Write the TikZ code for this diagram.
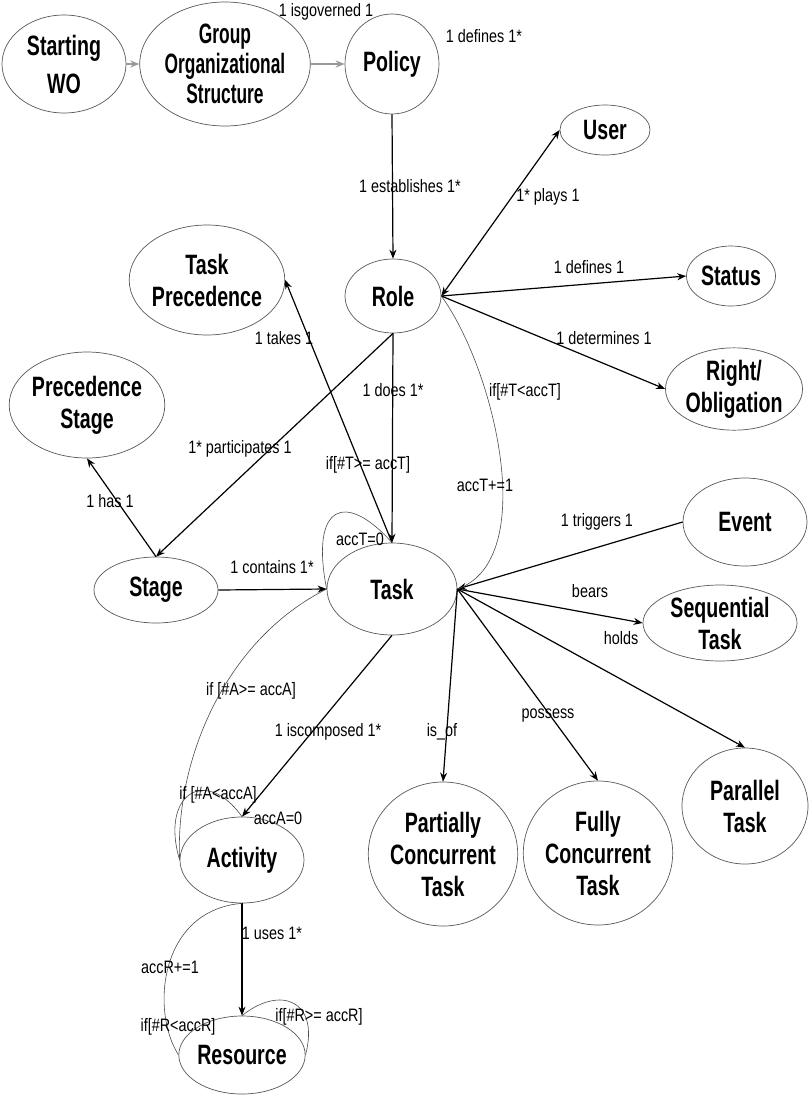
\documentclass[tikz,border=0pt]{standalone}
\usepackage{fontspec}
\setmainfont{Liberation Sans}[FakeStretch=0.8]
\newfontfamily\nodef{Liberation Sans}[FakeStretch=0.7]
\newfontfamily\nodefn{Liberation Sans}[FakeStretch=0.62]
\usetikzlibrary{shapes.geometric,arrows.meta}
\begin{document}
\begin{tikzpicture}[x=1pt,y=-1pt,
  ent/.style={ellipse, draw=black!65, line width=0.7pt, inner sep=0pt, align=center,
    font=\nodef\bfseries\fontsize{28}{32}\selectfont},
  lbl/.style={font=\fontsize{18}{20}\selectfont, inner sep=0pt},
  rel/.style={draw=black, line width=1.2pt, -{Stealth[length=9pt,width=7pt]}},
  grayarr/.style={draw=black!40, line width=1.6pt, -{Stealth[length=9pt,width=7pt]}},
  curve/.style={draw=black!70, line width=0.6pt}
]
\fill[white] (0,0) rectangle (811,1096);
\useasboundingbox (0,0) rectangle (811,1096);

% entities
\node[ent, minimum width=124pt, minimum height=98pt] (start) at (64,64) {Starting\\[6pt]WO};
\node[ent, minimum width=130pt, minimum height=124pt, font=\nodefn\bfseries\fontsize{28}{30}\selectfont] (group) at (225,64) {Group\\Organizational\\Structure};
\node[ent, minimum width=94pt, minimum height=100pt] (policy) at (392,64) {Policy};
\node[ent, minimum width=90pt, minimum height=50pt] (user) at (605,130) {User};
\node[ent, minimum width=96pt, minimum height=74pt] (role) at (393,296) {Role};
\node[ent, minimum width=89pt, minimum height=60pt] (status) at (731,276) {Status};
\node[ent, minimum width=130pt, minimum height=72pt] (right) at (734,389) {Right/\\Obligation};
\node[ent, minimum width=144pt, minimum height=110pt] (tp) at (207,280) {Task\\Precedence};
\node[ent, minimum width=140pt, minimum height=106pt] (ps) at (87,405) {Precedence\\Stage};
\node[ent, minimum width=124pt, minimum height=66pt] (stage) at (156,590) {Stage};
\node[ent, minimum width=130pt, minimum height=92pt] (task) at (392,589) {Task};
\node[ent, minimum width=124pt, minimum height=88pt] (event) at (745,522) {Event};
\node[ent, minimum width=154pt, minimum height=76pt] (seq) at (720,623) {Sequential\\Task};
\node[ent, minimum width=126pt, minimum height=116pt] (par) at (745,806) {Parallel\\Task};
\node[ent, minimum width=134pt, minimum height=144pt] (part) at (443,854) {Partially\\Concurrent\\Task};
\node[ent, minimum width=132pt, minimum height=144pt] (fully) at (598,853) {Fully\\Concurrent\\Task};
\node[ent, minimum width=124pt, minimum height=86pt] (act) at (242,860) {Activity};
\node[ent, minimum width=124pt, minimum height=78pt] (res) at (242,1055) {Resource};

% connectors
\draw[grayarr] (start) -- (group);
\draw[grayarr] (group) -- (policy);
\draw[rel] (policy.south) -- (role.north);
\draw[rel, {Stealth[length=9pt,width=7pt]}-{Stealth[length=9pt,width=7pt]}] (role.east) -- (user.west);
\draw[rel] (role.east) -- (status.west);
\draw[rel] (role.east) -- (right.west);
\draw[rel] (role.south) -- (task.north);
\draw[rel] (role.south) -- (stage.north);
\draw[rel] (task.north) -- (tp.east);
\draw[rel] (stage.north) -- (ps.south);
\draw[rel] (stage.east) -- (task.west);
\draw[rel] (event.west) -- (task.east);
\draw[rel] (task.east) -- (seq.west);
\draw[rel] (task.east) -- (par.north);
\draw[rel] (task.east) -- (fully.north);
\draw[rel] (task.east) -- (part.north);
\draw[rel] (task.south) -- (act.north);
\draw[rel] (act.south) -- (res.north);

% thin curves
\draw[curve] (task.west) .. controls (310,505) and (345,490) .. (task.north);
\draw[curve] (role.east) .. controls (495,370) and (540,560) .. (task.east);
\draw[curve] (task.west) .. controls (225,640) and (175,760) .. (act.west);
\draw[curve] (act.west) .. controls (160,795) and (205,765) .. (act.north);
\draw[curve] (act.south) .. controls (160,910) and (150,1010) .. (res.west);
\draw[curve] (res.north) .. controls (280,985) and (320,1000) .. (res.east);

% labels
\node[lbl] (l1) at (326,12) {1 isgoverned 1};
\node[lbl] (l2) at (484,36) {1 defines 1*};
\node[lbl] (l3) at (410,186) {1 establishes 1*};
\node[lbl] (l4) at (548,197) {1* plays 1};
\node[lbl] (l5) at (589,267) {1 defines 1};
\node[lbl] (l6) at (604,338) {1 determines 1};
\node[lbl] (l7) at (284,338) {1 takes 1};
\node[lbl] (l8) at (393,390) {1 does 1*};
\node[lbl] (l9) at (525,392) {if[\#T<accT]};
\node[lbl] (l10) at (240,449) {1* participates 1};
\node[lbl] (l11) at (368,465) {if[\#T>= accT]};
\node[lbl] (l12) at (485,485) {accT+=1};
\node[lbl] (l13) at (110,501) {1 has 1};
\node[lbl] (l14) at (360,539) {accT=0};
\node[lbl] (l15) at (272,567) {1 contains 1*};
\node[lbl] (l16) at (597,522) {1 triggers 1};
\node[lbl] (l17) at (590,591) {bears};
\node[lbl] (l18) at (621,638) {holds};
\node[lbl] (l19) at (251,691) {if [\#A>= accA]};
\node[lbl] (l20) at (548,716) {possess};
\node[lbl] (l21) at (442,732) {is\_of};
\node[lbl] (l22) at (328,732) {1 iscomposed 1*};
\node[lbl] (l23) at (218,795) {if [\#A<accA]};
\node[lbl] (l24) at (278,818) {accA=0};
\node[lbl] (l25) at (272,933) {1 uses 1*};
\node[lbl] (l26) at (170,967) {accR+=1};
\node[lbl] (l27) at (319,1017) {if[\#R>= accR]};
\node[lbl] (l28) at (178,1027) {if[\#R<accR]};
\end{tikzpicture}
\end{document}
